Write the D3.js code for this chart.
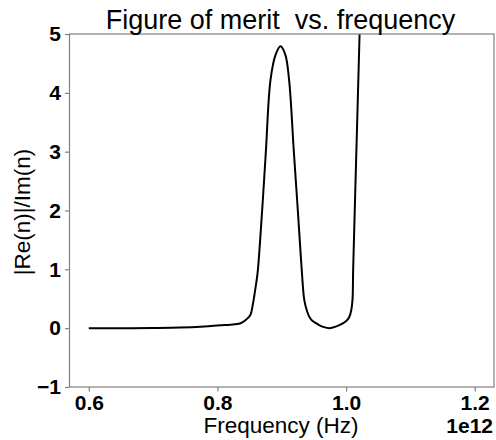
<!DOCTYPE html>
<html><head><meta charset="utf-8">
<script src="https://cdn.jsdelivr.net/npm/d3@7"></script>
<style>body{margin:0;background:#fff;} svg{display:block;} text{white-space:pre;}</style>
</head><body>
<svg id="c" width="496" height="440"></svg>
<script>
const freq = [0.60,0.65,0.70,0.742,0.78,0.804,0.82,0.835,0.843,0.851,0.855,0.858,0.861,0.863,0.8695,0.8753,0.8825,0.8905,0.898,0.9055,0.9114,0.9188,0.925,0.931,0.935,0.939,0.943,0.948,0.954,0.962,0.974,0.985,0.995,1.001,1.005,1.008,1.010,1.011,1.016,1.021,1.024];
const merit = [0.0,0.0,0.003,0.01,0.03,0.05,0.06,0.08,0.13,0.22,0.40,0.60,0.82,1.0,2.0,3.0,4.22,4.65,4.79,4.65,4.22,3.0,2.0,1.0,0.48,0.30,0.19,0.12,0.08,0.03,0.0,0.03,0.08,0.13,0.19,0.30,0.48,0.99,3.0,5.0,6.2];
const xTicks = [0.6,0.8,1.0,1.2];
const yTicks = [-1,0,1,2,3,4,5];
const title = "Figure of merit  vs. frequency";
const xLabel = "Frequency (Hz)";
const yLabel = "|Re(n)|/Im(n)";
const offsetText = "1e12";

const svg = d3.select("#c");
const L=69.5, R=494, T=34, B=387;
const x = d3.scaleLinear().domain([0.57,1.23]).range([L,R]);
const y = d3.scaleLinear().domain([-1,5]).range([B,T]);
const spine = "#808080";
const FONT = "Liberation Sans, Arial, sans-serif";

svg.append("defs").append("clipPath").attr("id","clip")
  .append("rect").attr("x",L).attr("y",T).attr("width",R-L).attr("height",B-T);

const line = d3.line().x((d,i)=>x(freq[i])).y(d=>y(d)).curve(d3.curveCatmullRom.alpha(0.5));
svg.append("path").attr("d", line(merit)).attr("fill","none").attr("stroke","#000")
  .attr("stroke-width",2).attr("clip-path","url(#clip)");

svg.append("rect").attr("x",L).attr("y",T).attr("width",R-L).attr("height",B-T)
  .attr("fill","none").attr("stroke",spine).attr("stroke-width",1.2);

const xa = svg.append("g").attr("transform",`translate(0,${B})`)
  .call(d3.axisBottom(x).tickValues(xTicks).tickFormat(d3.format(".1f")).tickSize(4.5));
const ya = svg.append("g").attr("transform",`translate(${L},0)`)
  .call(d3.axisLeft(y).tickValues(yTicks).tickFormat(d=>d<0?"\u2212"+Math.abs(d):d).tickSize(4.5).tickPadding(4));
[xa,ya].forEach(a=>{
  a.select(".domain").remove();
  a.selectAll(".tick line").attr("stroke",spine).attr("stroke-width",1.2);
  a.selectAll(".tick text").attr("fill","#000").style("font-family",FONT)
    .style("font-size","21px").style("font-weight","bold");
});
xa.selectAll(".tick text").attr("dy",null).attr("y",23);

svg.append("text").attr("x",280.5).attr("y",29).attr("text-anchor","middle")
  .style("font-family",FONT).style("font-size","27px").text(title);
svg.append("text").attr("x",281).attr("y",433).attr("text-anchor","middle")
  .style("font-family",FONT).style("font-size","22.5px").text(xLabel);
svg.append("text").attr("x",493).attr("y",433).attr("text-anchor","end")
  .style("font-family",FONT).style("font-size","21px").style("font-weight","bold").text(offsetText);
svg.append("text").attr("transform",`translate(30,212) rotate(-90)`).attr("text-anchor","middle")
  .style("font-family",FONT).style("font-size","22.5px").text(yLabel);
</script>
</body></html>
